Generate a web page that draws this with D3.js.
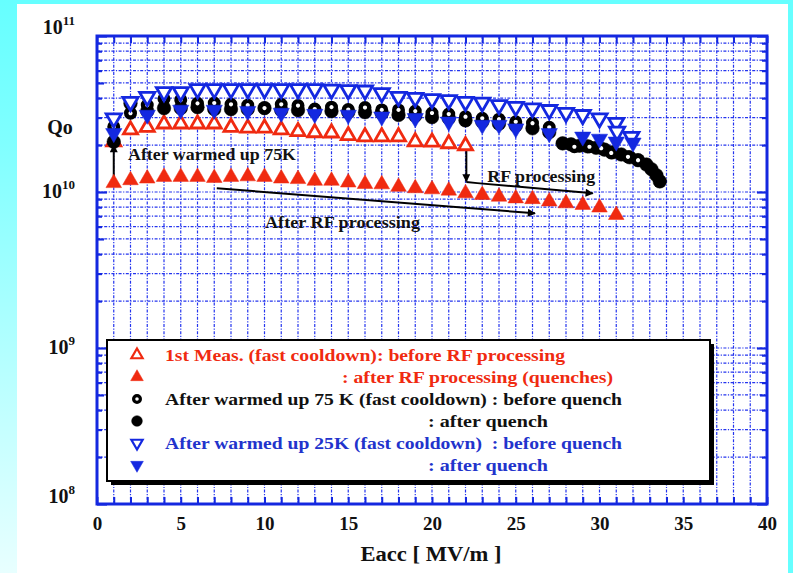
<!DOCTYPE html>
<html><head><meta charset="utf-8">
<script src="https://cdn.jsdelivr.net/npm/d3@7"></script>
<style>
body{margin:0;background:#66ffff}svg{display:block}
svg text{font-family:"Liberation Serif","Times New Roman",Times,serif !important;font-weight:bold}
</style>
</head><body>
<svg id="c" width="793" height="573"></svg>
<script>
// ---------------- data ----------------
const xTicks = [0, 5, 10, 15, 20, 25, 30, 35, 40];
const yDecades = [1e8, 1e9, 1e10, 1e11];
const yTickLabels = ["8", "9", "10", "11"];

// 1st measurement, before RF processing (red open triangles)
const redOpenE = [1,2,3,4,5,6,7,8,9,10,11,12,13,14,15,16,17,18,19,20,21,22];
const redOpenQ = [2.10,2.50,2.60,2.73,2.73,2.73,2.73,2.60,2.57,2.57,2.50,2.44,2.40,2.39,2.30,2.26,2.26,2.26,2.10,2.09,2.04,1.98];

// after RF processing (red filled triangles)
const redFillE = [1,2,3,4,5,6,7,8,9,10,11,12,13,14,15,16,17,18,19,20,21,22,23,24,25,26,27,28,29,30,31];
const redFillQ = [1.14,1.19,1.22,1.25,1.25,1.25,1.23,1.25,1.26,1.25,1.22,1.21,1.18,1.18,1.15,1.125,1.12,1.08,1.057,1.04,1.02,0.98,0.957,0.933,0.91,0.90,0.87,0.846,0.826,0.795,0.712];

// after warmed up 75K, before quench (black open circles)
const blkOpenE = [1,2,3,4,5,6,7,8,9,10,11,12,13,14,15,16,17,18,19,20,21,22,23,24,25,26,27,28.5,29.4,30.1,30.7,31.7,32.3];
const blkOpenQ = [2.62,3.20,3.61,3.95,3.89,3.70,3.72,3.65,3.60,3.45,3.65,3.58,3.40,3.50,3.38,3.48,3.36,3.36,3.30,3.21,3.16,3.04,2.97,2.93,2.82,2.76,2.60,1.95,1.95,1.91,1.78,1.68,1.60];

// after warmed up 75K, after quench (black filled circles)
const blkFillE = [1,2,3,4,5,6,7,8,9,10,11,12,13,14,15,16,17,18,19,20,21,22,23,24,25,26,27,27.8,28.3,28.8,29.3,29.8,30.3,30.8,31.3,31.8,32.3,32.8,33.1,33.4,33.6];
const blkFillQ = [2.10,3.70,3.30,3.45,3.45,3.50,3.40,3.40,3.40,3.45,3.35,3.35,3.30,3.30,3.25,3.25,3.20,3.12,3.08,3.02,2.97,2.88,2.82,2.74,2.66,2.56,2.42,2.05,2.02,1.98,1.96,1.92,1.87,1.80,1.74,1.67,1.60,1.50,1.40,1.28,1.17];

// after warmed up 25K, before quench (blue open down-triangles)
const bluOpenE = [1,2,3,4,5,6,7,8,9,10,11,12,13,14,15,16,17,18,19,20,21,22,23,24,25,26,27,28,29,30,31,31.05,31.9];
const bluOpenQ = [2.97,3.79,4.08,4.38,4.38,4.57,4.57,4.57,4.57,4.57,4.57,4.57,4.57,4.54,4.51,4.48,4.31,4.08,4.02,3.94,3.89,3.79,3.75,3.61,3.52,3.44,3.36,3.22,3.12,2.97,2.78,2.44,2.26];

// after warmed up 25K, after quench (blue filled down-triangles)
const bluFillE = [1,3,5,7,9,11,13,15,17,19,21,23,24,25,27,29,30,31,32];
const bluFillQ = [2.38,3.12,3.36,3.36,3.30,3.21,3.16,3.12,3.04,2.97,2.82,2.69,2.69,2.55,2.38,2.26,2.19,2.10,2.07];

const legendLabels = [
  "1st Meas. (fast cooldown): before RF processing",
  ": after RF processing (quenches)",
  "After warmed up 75 K (fast cooldown) : before quench",
  ": after quench",
  "After warmed up 25K (fast cooldown)  : before quench",
  ": after quench"
];

// ---------------- drawing ----------------
const W = 793, H = 573;
const RED = "#f02a10", BLUE = "#1428e0", GRID = "#2434ee", TXTBLUE = "#2233cc";
const svg = d3.select("#c");
const defs = svg.append("defs");
const lg = defs.append("linearGradient").attr("id", "lg").attr("x1", 0).attr("y1", 0).attr("x2", 0).attr("y2", 1);
lg.append("stop").attr("offset", "0").attr("stop-color", "#66ffff");
lg.append("stop").attr("offset", "0.25").attr("stop-color", "#80ffff");
lg.append("stop").attr("offset", "1").attr("stop-color", "#e8ffff");
defs.append("marker").attr("id", "ah").attr("viewBox", "0 0 10 10").attr("refX", 9).attr("refY", 5)
  .attr("markerWidth", 12).attr("markerHeight", 8).attr("markerUnits", "userSpaceOnUse").attr("orient", "auto")
  .append("path").attr("d", "M0,0L10,5L0,10Z").attr("fill", "#000");

svg.append("rect").attr("width", W).attr("height", H).attr("fill", "#66ffff");
svg.append("rect").attr("x", 0).attr("y", 0).attr("width", 17).attr("height", H).attr("fill", "url(#lg)");
svg.append("rect").attr("x", 17).attr("y", 4).attr("width", 771).attr("height", H - 4).attr("fill", "#fff");

const x = d3.scaleLinear().domain([0, 40]).range([97, 767]);
const y = d3.scaleLog().domain([1e8, 1e11]).range([504, 36]);

// grid values
const minorY = [];
[1e8, 1e9, 1e10].forEach(d => { for (let m = 1; m <= 9; m++) { const v = d * m; if (v > 1e8) minorY.push(v); } });
const gridX = d3.range(1, 40);

const g = svg.append("g");
g.selectAll(".gx").data(gridX).join("line")
  .attr("x1", d => x(d)).attr("x2", d => x(d)).attr("y1", y(1e11)).attr("y2", y(1e8))
  .attr("stroke", GRID).attr("stroke-width", 1.2).attr("stroke-dasharray", "3,1.5,1.2,1.5");
g.selectAll(".gy").data(minorY).join("line")
  .attr("x1", x(0)).attr("x2", x(40)).attr("y1", d => y(d)).attr("y2", d => y(d))
  .attr("stroke", GRID).attr("stroke-width", 1.2).attr("stroke-dasharray", "3,1.5,1.2,1.5");

// inward ticks via d3 axes
function tickLen(v) { const m = Math.round(v / Math.pow(10, Math.floor(Math.log10(v) + 1e-9))); return m === 1 ? 10 : (m === 5 ? 7 : 5); }
const allY = minorY.concat([1e8, 1e11]);
[[d3.axisLeft, x(0)], [d3.axisRight, x(40)]].forEach(([ax, px]) => {
  [10, 7, 5].forEach(L => {
    const vals = allY.filter(v => tickLen(v) === L);
    const a = svg.append("g").attr("transform", `translate(${px},0)`)
      .call(ax(y).tickValues(vals).tickSize(-L).tickFormat(""));
    a.select(".domain").remove();
    a.selectAll("line").attr("stroke", BLUE).attr("stroke-width", 2.2);
  });
});
[[d3.axisBottom, y(1e8)], [d3.axisTop, y(1e11)]].forEach(([ax, py]) => {
  const a = svg.append("g").attr("transform", `translate(0,${py})`)
    .call(ax(x).tickValues(d3.range(0, 41)).tickSize(-7).tickFormat(""));
  a.select(".domain").remove();
  a.selectAll("line").attr("stroke", BLUE).attr("stroke-width", 2);
});
// frame
svg.append("rect").attr("x", x(0)).attr("y", y(1e11)).attr("width", x(40) - x(0)).attr("height", y(1e8) - y(1e11))
  .attr("fill", "none").attr("stroke", BLUE).attr("stroke-width", 3);

// x-axis labels
const xa = svg.append("g").attr("transform", `translate(0,${y(1e8)})`)
  .call(d3.axisBottom(x).tickValues(xTicks).tickSize(0).tickPadding(13));
xa.select(".domain").remove();
xa.attr("font-family", null).attr("font-size", null);
xa.selectAll("text").attr("font-size", 19).attr("fill", "#111");
// y-axis labels
const ya = svg.append("g").attr("transform", `translate(${x(0)},0)`)
  .call(d3.axisLeft(y).tickValues(yDecades).tickSize(0).tickFormat(""));
ya.select(".domain").remove();
ya.attr("font-family", null).attr("font-size", null);
ya.selectAll(".tick").each(function (d, i) {
  const t = d3.select(this);
  t.select("text").remove();
  const dy = d === 1e11 ? -3 : (d === 1e8 ? -2 : 5);
  const tx = t.append("text").attr("x", -22).attr("y", dy).attr("text-anchor", "end")
    .attr("font-size", 20).attr("fill", "#111");
  tx.append("tspan").text("10");
  tx.append("tspan").attr("dy", -9).attr("font-size", 13).text(yTickLabels[i]);
});

svg.append("text").attr("x", 60).attr("y", 134).attr("text-anchor", "middle")
  .attr("font-size", 20).attr("fill", "#111").text("Qo");
svg.append("text").attr("x", (x(0) + x(40)) / 2 - 1).attr("y", 561).attr("text-anchor", "middle")
  .attr("font-size", 20).attr("fill", "#111")
  .attr("textLength", 141).attr("lengthAdjust", "spacingAndGlyphs").text("Eacc [ MV/m ]");

// ---------------- annotations (in data coords) ----------------
const ann = svg.append("g");
function arrow(pts, head) {
  ann.append("path").attr("d", d3.line().x(p => x(p[0])).y(p => y(p[1]))(pts))
    .attr("fill", "none").attr("stroke", "#000").attr("stroke-width", 2)
    .attr("marker-end", head ? "url(#ah)" : null);
}
arrow([[1, 1.19e10], [1, 2.0e10]], true);
arrow([[22.05, 1.93e10], [22.05, 1.17e10]], true);
arrow([[22.05, 1.16e10], [22.7, 1.14e10], [29.6, 9.8e9]], true);
arrow([[7.15, 1.057e10], [26.15, 7.3e9]], true);
function annText(e, q, s, len) {
  ann.append("text").attr("x", x(e)).attr("y", y(q) + 5)
    .attr("font-size", 16).attr("fill", "#111")
    .attr("textLength", len).attr("lengthAdjust", "spacingAndGlyphs").text(s);
}
annText(1.85, 1.73e10, "After warmed up 75K", 168);
annText(23.3, 1.25e10, "RF processing", 108);
annText(10.03, 6.3e9, "After RF processing", 155);

// ---------------- markers ----------------
const triUp = d3.symbol().type(d3.symbolTriangle);
function series(E, Q, kind) {
  const data = E.map((e, i) => [e, Q[i] * 1e10]);
  svg.append("g").selectAll("path").data(data).join("path")
    .attr("transform", d => `translate(${x(d[0])},${y(d[1])})` + (kind.down ? " rotate(180)" : ""))
    .attr("d", kind.d).attr("fill", kind.fill).attr("stroke", kind.stroke).attr("stroke-width", kind.sw);
}
const K = {
  redOpen: { d: triUp.size(85)(), fill: "#fff", stroke: RED, sw: 2.8 },
  redFill: { d: triUp.size(105)(), fill: RED, stroke: RED, sw: 0.5 },
  blkOpen: { d: d3.symbol().type(d3.symbolCircle).size(58)(), fill: "#fff", stroke: "#000", sw: 4.4 },
  blkFill: { d: d3.symbol().type(d3.symbolCircle).size(145)(), fill: "#000", stroke: "#000", sw: 0.5 },
  bluOpen: { d: triUp.size(100)(), fill: "#fff", stroke: BLUE, sw: 2.8, down: true },
  bluFill: { d: triUp.size(115)(), fill: BLUE, stroke: BLUE, sw: 0.5, down: true }
};
series(redOpenE, redOpenQ, K.redOpen);
series(redFillE, redFillQ, K.redFill);
series(blkFillE, blkFillQ, K.blkFill);
series(blkOpenE, blkOpenQ, K.blkOpen);
series(bluOpenE, bluOpenQ, K.bluOpen);
series(bluFillE, bluFillQ, K.bluFill);

// ---------------- legend ----------------
const lgd = svg.append("g");
lgd.append("rect").attr("x", 111).attr("y", 344).attr("width", 603).attr("height", 141).attr("fill", "#000");
lgd.append("rect").attr("x", 107).attr("y", 340).attr("width", 603).attr("height", 141)
  .attr("fill", "#fff").attr("stroke", "#000").attr("stroke-width", 2);
const legKinds = [
  { k: { d: triUp.size(55)(), fill: "#fff", stroke: RED, sw: 2.2 }, col: RED, x0: 165, len: 400 },
  { k: { d: triUp.size(70)(), fill: RED, stroke: RED, sw: 0.5 }, col: RED, x0: 342, len: 271 },
  { k: { d: d3.symbol().type(d3.symbolCircle).size(36)(), fill: "#fff", stroke: "#000", sw: 3.2 }, col: "#111", x0: 165, len: 457 },
  { k: { d: d3.symbol().type(d3.symbolCircle).size(90)(), fill: "#000", stroke: "#000", sw: 0.5 }, col: "#111", x0: 428, len: 120 },
  { k: { d: triUp.size(55)(), fill: "#fff", stroke: BLUE, sw: 2.2, down: true }, col: TXTBLUE, x0: 165, len: 457 },
  { k: { d: triUp.size(70)(), fill: BLUE, stroke: BLUE, sw: 0.5, down: true }, col: TXTBLUE, x0: 428, len: 120 }
];
legendLabels.forEach((s, i) => {
  const cy = 355 + i * 22;
  const L = legKinds[i];
  lgd.append("path").attr("d", L.k.d).attr("transform", `translate(137,${cy})` + (L.k.down ? " rotate(180)" : ""))
    .attr("fill", L.k.fill).attr("stroke", L.k.stroke).attr("stroke-width", L.k.sw);
  lgd.append("text").attr("x", L.x0).attr("y", cy + 6)
    .attr("font-size", 17.5).attr("fill", L.col).attr("textLength", L.len).attr("lengthAdjust", "spacingAndGlyphs")
    .style("white-space", "pre").text(s);
});
</script>
</body></html>
